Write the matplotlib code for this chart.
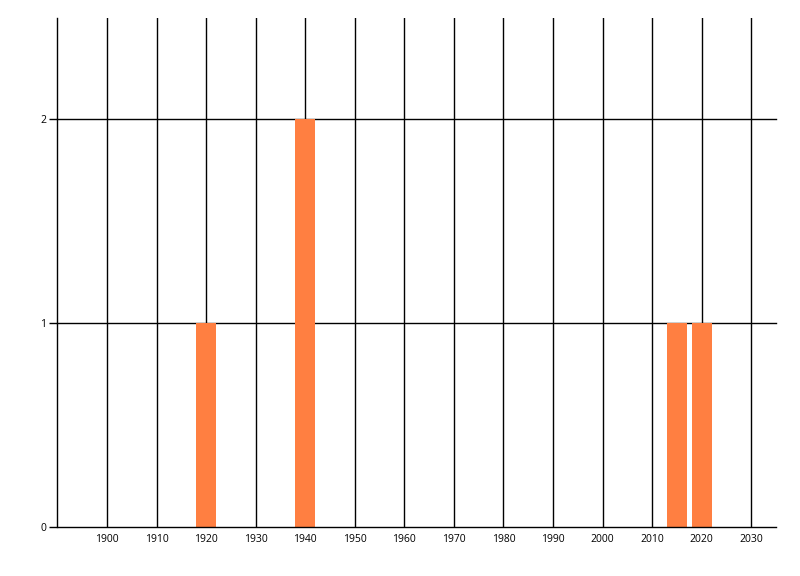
import matplotlib
matplotlib.use("Agg")
import matplotlib.pyplot as plt

years = [1920, 1940, 2015, 2020]
counts = [1, 2, 1, 1]
x_ticks = list(range(1900, 2031, 10))
y_ticks = [0, 1, 2]
bar_color = "#FF7F41"

fig = plt.figure(figsize=(8, 5.76), dpi=100)
ax = fig.add_axes([57.5/800, 1-527/576, (776-57.5)/800, (527-17.5)/576])

ax.set_xlim(1890, 2035)
ax.set_ylim(0, 2.5)

for x in x_ticks:
    ax.axvline(x, color="black", lw=1.0, zorder=1)
for y in y_ticks[1:]:
    ax.axhline(y, color="black", lw=1.0, zorder=1, clip_on=False)

ax.bar(years, counts, width=4, color=bar_color, zorder=2)

for s in ["top", "right"]:
    ax.spines[s].set_visible(False)
for s in ["left", "bottom"]:
    ax.spines[s].set_linewidth(1.0)
    ax.spines[s].set_zorder(3)

ax.set_xticks(x_ticks)
ax.set_xticklabels([str(x) for x in x_ticks])
ax.set_yticks(y_ticks)
ax.set_yticklabels([str(y) for y in y_ticks])
ax.tick_params(axis="x", length=0, pad=5, labelsize=7.5, labelcolor="black")
ax.tick_params(axis="y", length=6, width=1.0, pad=2, labelsize=7.5, labelcolor="black")
for lbl in ax.get_xticklabels() + ax.get_yticklabels():
    lbl.set_family(["Open Sans", "DejaVu Sans"])

fig.savefig("out.png", dpi=100, facecolor="white")
